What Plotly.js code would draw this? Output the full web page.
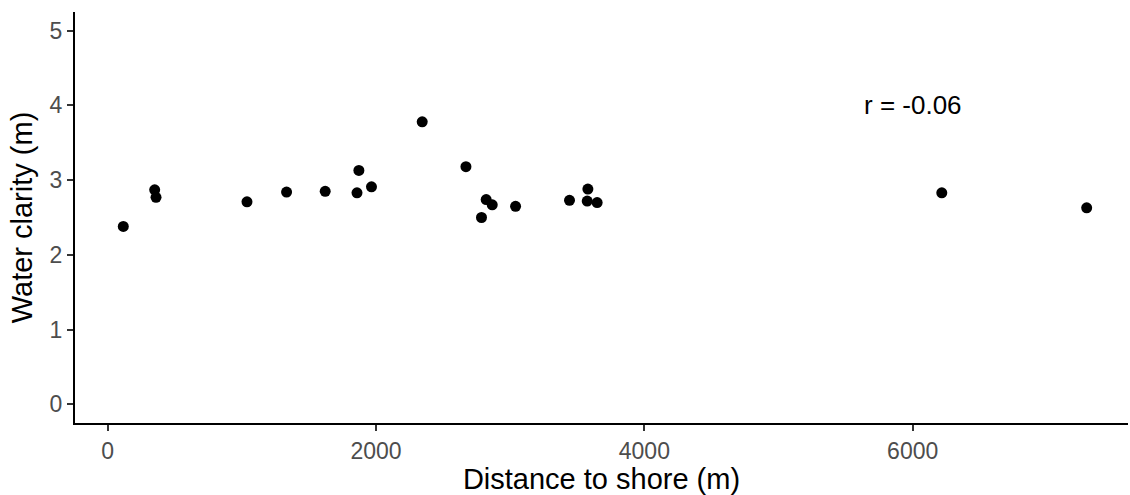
<!DOCTYPE html>
<html>
<head>
<meta charset="utf-8">
<script src="https://cdn.plot.ly/plotly-3.0.1.min.js"></script>
<style>html,body{margin:0;padding:0;background:#fff;}#chart{width:1130px;height:495px;}</style>
</head>
<body>
<div id="chart"></div>
<script>
const distance = [116, 350, 360, 1038, 1333, 1621, 1858, 1872, 1966, 2344, 2670, 2786, 2821, 2866, 3040, 3442, 3574, 3579, 3648, 6217, 7297];
const clarity  = [2.38, 2.87, 2.77, 2.71, 2.84, 2.85, 2.83, 3.13, 2.91, 3.78, 3.18, 2.50, 2.74, 2.67, 2.65, 2.73, 2.72, 2.88, 2.70, 2.83, 2.63];
const xTicks = [0, 2000, 4000, 6000];
const yTicks = [0, 1, 2, 3, 4, 5];
const annotationText = "r = -0.06";
const annotationPos = [6000, 4];

const font = "Liberation Sans, Arial, sans-serif";
Plotly.newPlot("chart", [{
  x: distance, y: clarity, type: "scatter", mode: "markers",
  marker: {color: "#000000", size: 11}, hoverinfo: "x+y"
}], {
  width: 1130, height: 495,
  margin: {l: 75, r: 2, t: 12, b: 72},
  paper_bgcolor: "#ffffff", plot_bgcolor: "#ffffff",
  showlegend: false,
  xaxis: {
    range: [-244, 7605], tickvals: xTicks, ticktext: xTicks.map(String),
    showgrid: false, zeroline: false, showline: true, linecolor: "#000", linewidth: 2,
    ticks: "outside", ticklen: 6, tickwidth: 2, tickcolor: "#333",
    tickfont: {family: font, size: 23, color: "#4D4D4D"},
    title: {text: "Distance to shore (m)", font: {family: font, size: 29, color: "#000"}, standoff: 6}
  },
  yaxis: {
    range: [-0.25, 5.25], tickvals: yTicks, ticktext: yTicks.map(String),
    showgrid: false, zeroline: false, showline: true, linecolor: "#000", linewidth: 2,
    ticks: "outside", ticklen: 6, tickwidth: 2, tickcolor: "#333",
    tickfont: {family: font, size: 23, color: "#4D4D4D"},
    title: {text: "Water clarity (m)", font: {family: font, size: 29, color: "#000"}, standoff: 8}
  },
  annotations: [{
    x: annotationPos[0], y: annotationPos[1], xref: "x", yref: "y",
    text: annotationText, showarrow: false, xanchor: "center", yanchor: "middle",
    font: {family: font, size: 26, color: "#000"}
  }]
}, {displayModeBar: false, staticPlot: true});
</script>
</body>
</html>
